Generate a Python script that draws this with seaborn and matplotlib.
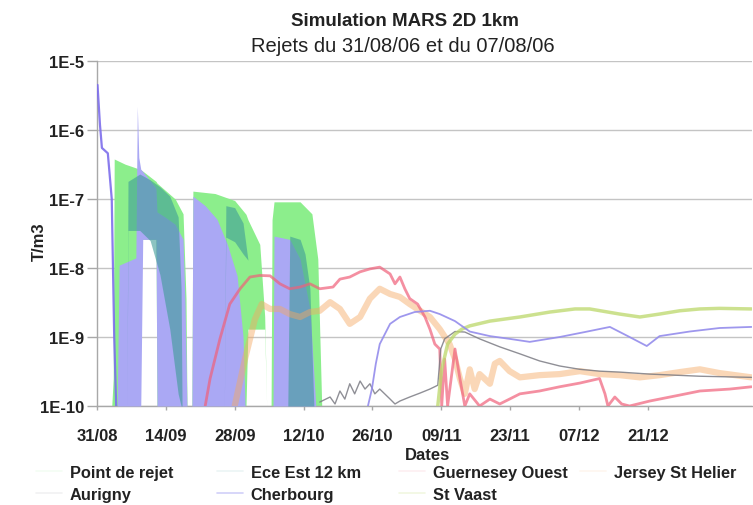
import numpy as np
import pandas as pd
import matplotlib
matplotlib.use("Agg")
import matplotlib.pyplot as plt
from matplotlib.lines import Line2D
import seaborn as sns

# Concentrations in T/m3, time in days after the 31/08/2006 release
start = pd.Timestamp("2006-08-31")

# Tidal envelopes (upper / lower limits of the oscillating signal)
rejet_days = [3.0, 3.3, 3.5, 5.7, 8.7, 9.1, 12.0, 12.2, 15.9, 17.5,
              18.1, 18.3, 19.3, 19.5, 24.0, 28.0, 30.3, 30.7, 33.1, 34.1,
              34.5, 35.4, 35.6, 36.0, 41.3, 43.7, 44.9, 45.7]
rejet_upper = [1e-10, 2.5e-10, 3.8e-7, 3.2e-7, 2.7e-7, 2.6e-7, 1.8e-7, 1.7e-7, 1.0e-7, 6.1e-8,
               3.6e-9, 1e-10, 1e-10, 1.3e-7, 1.2e-7, 9.5e-8, 6e-8, 5e-8, 2.2e-8, 2e-9,
               1e-10, 1e-10, 5e-8, 9.1e-8, 9.1e-8, 6.1e-8, 1.35e-8, 1e-10]
rejet_lower = [1e-10, 1e-10, 1e-10, 1e-10, 1e-10, 2.6e-8, 2.6e-8, 1e-10, 1e-10, 1e-10,
               1e-10, 1e-10, 1e-10, 1e-10, 1e-10, 1e-10, 1e-10, 1.3e-9, 1.3e-9, 1.3e-9,
               1e-10, 1e-10, 1e-10, 1e-10, 1e-10, 1e-10, 1e-10, 1e-10]

eco_days = [6.1, 6.3, 8.7, 10.8, 12.8, 14.8, 16.5, 17.1, 17.3,
            25.9, 26.2, 28.0, 29.7, 30.7, 30.9,
            38.8, 39.2, 41.3, 42.3, 43.3, 44.1]
eco_upper = [1e-10, 1.8e-7, 2.3e-7, 1.9e-7, 1.5e-7, 1.1e-7, 5.5e-8, 5e-9, 1e-10,
             1e-10, 8.0e-8, 7.5e-8, 4.5e-8, 1.3e-8, 1e-10,
             1e-10, 2.9e-8, 2.6e-8, 1.6e-8, 5e-9, 1e-10]
eco_lower = [1e-10, 3.5e-8, 3.5e-8, 2.5e-8, 8e-9, 1.3e-9, 1.5e-10, 1e-10, 1e-10,
             1e-10, 2.8e-8, 2.4e-8, 1.6e-8, 1.3e-8, 1e-10,
             1e-10, 1e-10, 1e-10, 1e-10, 1e-10, 1e-10]

cherb_band_days = [4.1, 4.5, 7.9, 8.2, 8.5, 8.9, 9.3, 11.8, 12.0, 12.2,
                   13.8, 15.9, 17.5, 17.9, 18.3, 19.3, 19.5, 22.0, 24.4, 26.5,
                   28.5, 29.7, 30.1, 35.8, 36.0, 39.2, 41.3, 43.3, 44.5]
cherb_band_upper = [1e-10, 1.1e-8, 1.4e-8, 2.2e-6, 4.0e-7, 2.7e-7, 2.5e-7, 1.5e-7, 1.4e-7, 6.5e-8,
                    5.5e-8, 4.3e-8, 2.6e-8, 3e-9, 1e-10, 1e-10, 1.1e-7, 8e-8, 5.1e-8, 2.2e-8,
                    7.7e-9, 1.0e-9, 1e-10, 1e-10, 2.9e-8, 2.6e-8, 1.35e-8, 2.55e-9, 1e-10]
cherb_band_lower = [1e-10, 1e-10, 1e-10, 1e-10, 1e-10, 1e-10, 2.6e-8, 2.6e-8, 2.6e-8, 1e-10,
                    1e-10, 1e-10, 1e-10, 1e-10, 1e-10, 1e-10, 1e-10, 1e-10, 1e-10, 1e-10,
                    1e-10, 1e-10, 1e-10, 1e-10, 1e-10, 1e-10, 1e-10, 1e-10, 1e-10]

# Single-valued series
cherb_peak_days = [0.1, 0.6, 1.0, 2.2, 3.0, 3.5, 3.9]
cherb_peak_vals = [4.5e-6, 1.2e-6, 5.5e-7, 4.6e-7, 1.0e-7, 1.0e-9, 1e-10]

cherb_days = [55.1, 55.9, 56.7, 57.5, 59.6, 61.6, 64.6, 67.7, 69.7, 72.8, 75.8, 79.9,
              83.9, 88.0, 94.1, 99.2, 104.3, 108.3, 111.8, 114.4, 120.5, 126.6, 133.1]
cherb_vals = [1e-10, 1.76e-10, 4.1e-10, 7.9e-10, 1.55e-9, 1.95e-9, 2.3e-9, 2.4e-9, 2.15e-9,
              1.7e-9, 1.2e-9, 1.03e-9, 9.4e-10, 8.5e-10, 1.0e-9, 1.18e-9, 1.4e-9, 1.0e-9,
              7.4e-10, 1.03e-9, 1.2e-9, 1.35e-9, 1.4e-9]

guern_days = [22.0, 23.0, 25.0, 27.0, 29.1, 31.1, 33.1, 35.2, 37.2, 39.2, 41.3, 43.3, 45.3,
              48.0, 49.4, 51.4, 53.5, 55.5, 57.5, 59.6, 60.6, 61.6, 62.6, 63.6, 65.2, 66.7,
              67.7, 68.7, 69.7, 70.1, 70.7, 71.3, 72.8, 73.8, 74.8, 75.8, 77.8, 79.9, 81.9,
              83.9, 86.0, 90.0, 94.1, 98.2, 102.2, 103.3, 103.9, 105.3, 106.7, 108.3, 112.4,
              118.5, 122.6, 128.7, 133.1]
guern_vals = [1e-10, 2.5e-10, 9.4e-10, 3.0e-9, 5.0e-9, 7.4e-9, 7.8e-9, 7.7e-9, 5.9e-9, 5.0e-9,
              5.3e-9, 5.9e-9, 5.0e-9, 5.3e-9, 6.9e-9, 7.4e-9, 8.8e-9, 9.7e-9, 1.03e-8, 8.2e-9,
              5.9e-9, 7.4e-9, 5.0e-9, 3.6e-9, 3.0e-9, 1.95e-9, 1.3e-9, 7.9e-10, 6.7e-10, 1e-10,
              4.8e-10, 1e-10, 6.7e-10, 2.5e-10, 1e-10, 1.5e-10, 1e-10, 1.26e-10, 1.07e-10,
              1.26e-10, 1.5e-10, 1.65e-10, 1.9e-10, 2.15e-10, 2.5e-10, 1.5e-10, 1e-10, 1.35e-10,
              1.07e-10, 1e-10, 1.18e-10, 1.44e-10, 1.65e-10, 1.76e-10, 1.9e-10]

jersey_days = [28.0, 30.1, 32.1, 33.5, 35.2, 37.2, 39.2, 41.3, 43.3, 45.3, 47.4, 49.4, 51.4,
               53.5, 55.5, 57.5, 59.6, 61.6, 63.6, 65.7, 67.7, 69.7, 71.7, 72.8, 73.8, 74.8,
               75.8, 76.8, 77.8, 79.9, 80.9, 81.9, 83.9, 86.0, 90.0, 94.1, 98.2, 102.2, 106.3,
               110.4, 114.4, 118.5, 122.6, 126.6, 133.1]
jersey_vals = [1e-10, 4.8e-10, 1.8e-9, 3.0e-9, 2.55e-9, 2.55e-9, 2.15e-9, 1.95e-9, 2.3e-9,
               2.4e-9, 3.2e-9, 2.55e-9, 1.55e-9, 1.95e-9, 3.6e-9, 5.0e-9, 4.2e-9, 3.8e-9, 3.0e-9,
               2.4e-9, 1.95e-9, 1.3e-9, 7.9e-10, 4.8e-10, 2.5e-10, 1.5e-10, 3.4e-10, 1.76e-10,
               2.9e-10, 2.1e-10, 4.1e-10, 4.5e-10, 3.2e-10, 2.6e-10, 2.8e-10, 2.9e-10, 3.2e-10,
               2.9e-10, 2.8e-10, 2.6e-10, 2.8e-10, 3.1e-10, 3.4e-10, 3.0e-10, 2.6e-10]

aurigny_days = [45.3, 47.4, 48.4, 49.4, 50.4, 51.4, 52.4, 53.5, 54.5, 55.5, 56.5, 57.5, 59.6,
                60.6, 61.6, 63.6, 65.7, 67.7, 69.3, 69.9, 70.7, 72.8, 74.8, 77.8, 81.9, 86.0,
                90.0, 94.1, 98.2, 102.2, 106.3, 112.4, 122.6, 133.1]
aurigny_vals = [1.14e-10, 1.35e-10, 1.07e-10, 1.65e-10, 1.26e-10, 2.1e-10, 1.5e-10, 2.3e-10,
                1.76e-10, 2.1e-10, 1.5e-10, 1.76e-10, 1.26e-10, 1.07e-10, 1.18e-10, 1.35e-10,
                1.54e-10, 1.76e-10, 2.0e-10, 6.7e-10, 9.4e-10, 1.2e-9, 1.18e-9, 9.4e-10, 7.2e-10,
                5.7e-10, 4.5e-10, 3.8e-10, 3.4e-10, 3.2e-10, 3.1e-10, 2.9e-10, 2.7e-10, 2.6e-10]

vaast_days = [69.3, 70.1, 71.3, 72.8, 74.2, 75.8, 79.9, 86.0, 92.1, 97.2, 100.2, 106.3,
              110.4, 114.4, 118.5, 122.6, 126.6, 133.1]
vaast_vals = [1e-10, 3.4e-10, 7.9e-10, 1.1e-9, 1.3e-9, 1.45e-9, 1.7e-9, 1.95e-9, 2.3e-9,
              2.55e-9, 2.55e-9, 2.15e-9, 1.95e-9, 2.15e-9, 2.4e-9, 2.55e-9, 2.6e-9, 2.55e-9]

x_tick_days = [0, 14, 28, 42, 56, 70, 84, 98, 112]
x_tick_labels = ["31/08", "14/09", "28/09", "12/10", "26/10", "09/11", "23/11", "07/12", "21/12"]
y_tick_vals = [1e-10, 1e-9, 1e-8, 1e-7, 1e-6, 1e-5]
y_tick_labels = ["1E-10", "1E-9", "1E-8", "1E-7", "1E-6", "1E-5"]


def to_dates(days):
    return (start + pd.to_timedelta(np.asarray(days, dtype=float), unit="D")).to_numpy()


sns.set_theme(style="white")
plt.rcParams["font.family"] = ["Liberation Sans", "DejaVu Sans"]

colors = {
    "Point de rejet": "#8cee8c",
    "Ece Est 12 km": "#3f9c98",
    "Guernesey Ouest": "#f0607a",
    "Jersey St Helier": "#f5a860",
    "Aurigny": "#7c7c84",
    "Cherbourg": "#aaa8f4",
    "St Vaast": "#bcd86a",
}

fig = plt.figure(figsize=(7.53, 5.06), dpi=100)
ax = fig.add_axes([97 / 753, 99 / 506, 655 / 753, 345 / 506])
ax.set_yscale("log")

# Tidal bands
ax.fill_between(to_dates(rejet_days), rejet_lower, rejet_upper,
                color=colors["Point de rejet"], lw=0, zorder=2)
ax.fill_between(to_dates(cherb_band_days), cherb_band_lower, cherb_band_upper,
                color=colors["Cherbourg"], lw=0, zorder=3)
ax.fill_between(to_dates(eco_days), eco_lower, eco_upper,
                color=colors["Ece Est 12 km"], alpha=0.6, lw=0, zorder=4)

# Curves
line_specs = [
    (jersey_days, jersey_vals, colors["Jersey St Helier"], 4.5, 0.45),
    (guern_days, guern_vals, colors["Guernesey Ouest"], 2.0, 0.7),
    (aurigny_days, aurigny_vals, colors["Aurigny"], 1.0, 0.85),
    (vaast_days, vaast_vals, colors["St Vaast"], 2.5, 0.75),
    (cherb_days, cherb_vals, "#948cec", 1.3, 0.9),
    (cherb_peak_days, cherb_peak_vals, "#7d6eec", 1.6, 0.9),
]
for i, (d, v, c, lw, a) in enumerate(line_specs):
    sns.lineplot(x=to_dates(d), y=v, ax=ax, color=c, lw=lw, alpha=a,
                 estimator=None, sort=False, zorder=5 + i)

ax.set_ylim(1e-10, 1e-5)
ax.set_xlim(to_dates([0])[0], to_dates([133.2])[0])

ax.set_yticks(y_tick_vals)
ax.set_yticklabels(y_tick_labels, fontsize=12, fontweight="bold")
ax.yaxis.set_minor_locator(matplotlib.ticker.NullLocator())
ax.set_xticks(to_dates(x_tick_days))
ax.set_xticklabels(x_tick_labels, fontsize=12, fontweight="bold")

ax.tick_params(axis="y", which="major", left=True, length=7, width=1,
               color="#a8a8a8", pad=2, labelcolor="#222222")
ax.tick_params(axis="x", which="major", bottom=True, length=3, width=1,
               color="#a8a8a8", pad=13, labelcolor="#222222")

ax.grid(axis="y", color="#c4c4c4", lw=1)
ax.grid(axis="x", visible=False)
for side in ["top", "right"]:
    ax.spines[side].set_visible(False)
for side in ["left", "bottom"]:
    ax.spines[side].set_color("#a8a8a8")
    ax.spines[side].set_linewidth(1)

ax.set_xlabel("Dates", fontsize=12, fontweight="bold", color="#222222")
ax.set_ylabel("T/m3", fontsize=12, fontweight="bold", color="#222222")
ax.xaxis.set_label_coords(0.505, -0.14)
ax.xaxis.label.set_va("center")
ax.yaxis.set_label_coords(-0.088, 0.478)
ax.yaxis.label.set_va("center")

fig.text(405 / 753, 1 - 21 / 506, "Simulation MARS 2D 1km", ha="center", va="center",
         fontsize=13.5, fontweight="bold", color="#222222")
fig.text(403 / 753, 1 - 46 / 506, "Rejets du 31/08/06 et du 07/08/06", ha="center",
         va="center", fontsize=14.5, color="#222222")

# Legend laid out in four fixed columns
legend_columns = [["Point de rejet", "Aurigny"],
                  ["Ece Est 12 km", "Cherbourg"],
                  ["Guernesey Ouest", "St Vaast"],
                  ["Jersey St Helier"]]
legend_alpha = {"Cherbourg": 0.55, "St Vaast": 0.2}
text_x = [69, 250, 432, 613]
for col, tx in zip(legend_columns, text_x):
    handles = [Line2D([], [], color=colors[n], lw=1.2, alpha=legend_alpha.get(n, 0.1))
               for n in col]
    fig.legend(handles, col, loc="upper left", bbox_to_anchor=((tx - 33) / 753, 1 - 466 / 506),
               frameon=False, borderpad=0, borderaxespad=0, handlelength=1.56,
               handletextpad=0.5, labelspacing=0.42,
               prop={"size": 11.8, "weight": "bold"}, labelcolor="#222222")

fig.savefig("out.png", dpi=100)
